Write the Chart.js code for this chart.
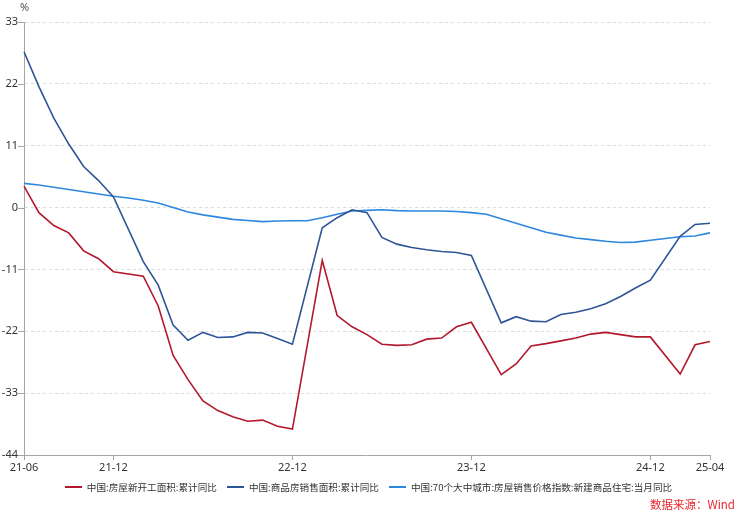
<!DOCTYPE html>
<html>
<head>
<meta charset="utf-8">
<script src="https://cdn.jsdelivr.net/npm/chart.js@4.4.0/dist/chart.umd.min.js"></script>
<style>
  html, body { margin: 0; padding: 0; background: #fff; }
  #wrap { position: relative; width: 741px; height: 518px; }
  #unit { position: absolute; left: 20px; top: -1px; font: 11px 'Noto Sans', sans-serif; color: #555; }
  #src { position: absolute; right: 6px; top: 496px; font: 11.5px 'Noto Sans CJK SC', sans-serif; color: #e8262d; }
  #legend { position: absolute; left: 0; width: 741px; top: 480px; display: flex; justify-content: center;
            padding-right: 4px; box-sizing: border-box;
            font: 9.6px 'Noto Sans CJK SC', sans-serif; color: #333; white-space: nowrap; }
  #legend .item { display: flex; align-items: center; margin: 0 5px; }
  #legend .mark { display: inline-block; width: 17px; height: 2px; margin-right: 5px; }
</style>
</head>
<body>
<div id="wrap">
  <canvas id="c" width="741" height="518"></canvas>
  <div id="unit">%</div>
  <div id="legend"></div>
  <div id="src">数据来源：Wind</div>
</div>
<script>
// ---- data ----
var MONTHS = [
  '21-06', '21-07', '21-08', '21-09', '21-10', '21-11', '21-12',
  '22-01', '22-02', '22-03', '22-04', '22-05', '22-06', '22-07', '22-08', '22-09', '22-10', '22-11', '22-12',
  '23-01', '23-02', '23-03', '23-04', '23-05', '23-06', '23-07', '23-08', '23-09', '23-10', '23-11', '23-12',
  '24-01', '24-02', '24-03', '24-04', '24-05', '24-06', '24-07', '24-08', '24-09', '24-10', '24-11', '24-12',
  '25-01', '25-02', '25-03', '25-04'
];
var TICK_LABELS = ['21-06', '21-12', '22-12', '23-12', '24-12', '25-04'];
var Y_TICKS = [-44, -33, -22, -11, 0, 11, 22, 33];

// 房屋新开工面积:累计同比 (no January values)
var newStarts = [
  3.8, -0.9, -3.2, -4.5, -7.7, -9.1, -11.4,
  null, -12.2, -17.5, -26.3, -30.6, -34.4, -36.1, -37.2, -38.0, -37.8, -38.9, -39.4,
  null, -9.4, -19.2, -21.2, -22.6, -24.3, -24.5, -24.4, -23.4, -23.2, -21.2, -20.4,
  null, -29.7, -27.8, -24.6, -24.2, -23.7, -23.2, -22.5, -22.2, -22.6, -23.0, -23.0,
  null, -29.6, -24.4, -23.8
];
// 商品房销售面积:累计同比 (no January values)
var salesArea = [
  27.7, 21.5, 15.9, 11.3, 7.3, 4.8, 1.9,
  null, -9.6, -13.8, -20.9, -23.6, -22.2, -23.1, -23.0, -22.2, -22.3, -23.3, -24.3,
  null, -3.6, -1.8, -0.4, -0.9, -5.3, -6.5, -7.1, -7.5, -7.8, -8.0, -8.5,
  null, -20.5, -19.4, -20.2, -20.3, -19.0, -18.6, -18.0, -17.1, -15.8, -14.3, -12.9,
  null, -5.1, -3.0, -2.8
];
// 70个大中城市新建商品住宅价格指数:当月同比
var priceIndex = [
  4.3, 4.0, 3.6, 3.2, 2.8, 2.4, 2.0,
  1.7, 1.3, 0.8, 0.0, -0.8, -1.3, -1.7, -2.1, -2.3, -2.5, -2.4, -2.35,
  -2.35, -1.8, -1.2, -0.6, -0.5, -0.4, -0.55, -0.6, -0.6, -0.6, -0.7, -0.9,
  -1.2, -2.0, -2.8, -3.6, -4.4, -4.9, -5.4, -5.7, -6.0, -6.2, -6.15, -5.8,
  -5.5, -5.2, -5.05, -4.5
];

var COLORS = { red: '#b3182d', navy: '#2f5597', blue: '#2e87de', axis: '#a6a6a6', grid: '#dcdcdc', text: '#333' };

// short solid tick marks left of the y axis
var yTickMarks = {
  id: 'yTickMarks',
  afterDraw: function(chart) {
    var y = chart.scales.y, ctx = chart.ctx;
    ctx.save(); ctx.strokeStyle = COLORS.axis; ctx.lineWidth = 1;
    y.ticks.forEach(function(t) {
      var py = Math.round(y.getPixelForValue(t.value)) + 0.5;
      ctx.beginPath(); ctx.moveTo(y.right - 6, py); ctx.lineTo(y.right, py); ctx.stroke();
    });
    ctx.restore();
  }
};

function line(label, data, color) {
  return { label: label, data: data, borderColor: color, backgroundColor: color, borderWidth: 1.6,
           pointRadius: 0, tension: 0, spanGaps: true };
}

var chart = new Chart(document.getElementById('c').getContext('2d'), {
  type: 'line',
  data: {
    labels: MONTHS,
    datasets: [
      line('中国:房屋新开工面积:累计同比', newStarts, COLORS.red),
      line('中国:商品房销售面积:累计同比', salesArea, COLORS.navy),
      line('中国:70个大中城市:房屋销售价格指数:新建商品住宅:当月同比', priceIndex, COLORS.blue)
    ]
  },
  options: {
    responsive: false, animation: false,
    layout: { padding: { top: 22, right: 31, bottom: 45, left: 0 } },
    scales: {
      x: {
        afterFit: function(s) { s.height = 18; },
        grid: {
          drawOnChartArea: false, tickLength: 5,
          color: function(c) { return TICK_LABELS.indexOf(MONTHS[c.index]) >= 0 ? COLORS.axis : 'rgba(0,0,0,0)'; }
        },
        border: { color: COLORS.axis },
        ticks: {
          autoSkip: false, maxRotation: 0, padding: 1, color: COLORS.text,
          font: { family: "'Noto Sans', sans-serif", size: 11 },
          callback: function(v, i) { var l = MONTHS[i]; return TICK_LABELS.indexOf(l) >= 0 ? l : ''; }
        }
      },
      y: {
        min: -44, max: 33,
        afterFit: function(s) { s.width = 24; },
        afterBuildTicks: function(s) { s.ticks = Y_TICKS.map(function(v) { return { value: v }; }); },
        grid: {
          drawTicks: false,
          color: function(c) { return c.tick && c.tick.value === -44 ? 'rgba(0,0,0,0)' : COLORS.grid; }
        },
        border: { color: COLORS.axis, dash: [3, 3] },
        ticks: { padding: 6, color: COLORS.text, font: { family: "'Noto Sans', sans-serif", size: 11 } }
      }
    },
    plugins: { tooltip: { enabled: false }, legend: { display: false } }
  },
  plugins: [yTickMarks]
});

// legend as html, built from the chart datasets
var legendEl = document.getElementById('legend');
chart.data.datasets.forEach(function(ds) {
  var item = document.createElement('span'); item.className = 'item';
  var mark = document.createElement('span'); mark.className = 'mark'; mark.style.background = ds.borderColor;
  item.appendChild(mark); item.appendChild(document.createTextNode(ds.label));
  legendEl.appendChild(item);
});
</script>
</body>
</html>
